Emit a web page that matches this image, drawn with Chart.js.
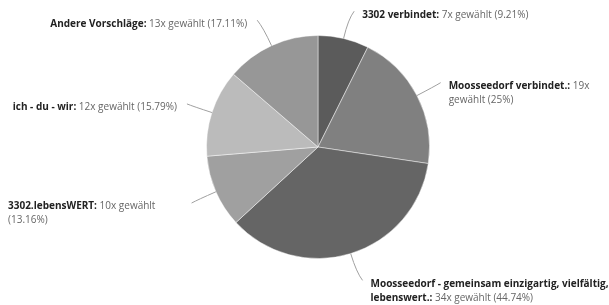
<!DOCTYPE html>
<html><head><meta charset="utf-8">
<script src="https://cdn.jsdelivr.net/npm/chart.js@4/dist/chart.umd.min.js"></script>
<style>html,body{margin:0;padding:0;background:#fff;}#wrap{width:609px;height:305px;position:relative;}</style>
</head><body><div id="wrap"><canvas id="c"></canvas></div>
<script>
const categories = ['3302 verbindet', 'Moosseedorf verbindet.', 'Moosseedorf - gemeinsam einzigartig, vielfältig, lebenswert.', '3302.lebensWERT', 'ich - du - wir', 'Andere Vorschläge'];
const votes = [7, 19, 34, 10, 12, 13];
const percentLabels = ['9.21%', '25%', '44.74%', '13.16%', '15.79%', '17.11%'];
const sliceColors = ['#5b5b5b', '#808080', '#656565', '#a0a0a0', '#bbbbbb', '#979797'];

const FONT = '"Open Sans", sans-serif';
const FS = 10;
const LINE_H = 14;

const labelPlugin = {
  id: 'leaderLabels',
  afterDatasetsDraw(chart) {
    const ctx = chart.ctx;
    const meta = chart.getDatasetMeta(0);
    meta.data.forEach((arc, i) => {
      const p = arc.getProps(['x', 'y', 'startAngle', 'endAngle', 'outerRadius'], true);
      const mid = (p.startAngle + p.endAngle) / 2;
      const dx = Math.cos(mid), dy = Math.sin(mid);
      const side = dx >= 0 ? 1 : -1;
      const x0 = p.x + dx * p.outerRadius, y0 = p.y + dy * p.outerRadius;
      const x1 = x0 + dx * 20, y1 = y0 + dy * 20;
      const x2 = x1 + side * 6, y2 = y1 + dy * 8;
      ctx.save();
      ctx.strokeStyle = '#a0a0a0';
      ctx.lineWidth = 1;
      ctx.beginPath();
      ctx.moveTo(x0, y0);
      ctx.quadraticCurveTo(x1, y1, x2, y2);
      ctx.stroke();

      const boldFont = 'bold ' + FS + 'px ' + FONT;
      const regFont = FS + 'px ' + FONT;
      const words = [];
      (categories[i] + ':').split(' ').forEach(w => words.push({ t: w, b: true }));
      (votes[i] + 'x gewählt (' + percentLabels[i] + ')').split(' ').forEach(w => words.push({ t: w, b: false }));
      words.forEach(w => { ctx.font = w.b ? boldFont : regFont; w.w = ctx.measureText(w.t).width; w.s = ctx.measureText(' ').width; });

      let textX, maxW;
      if (side > 0) { textX = x2 + 8; maxW = chart.width + 3 - textX; }
      else { maxW = x2 - 10 - 8; }
      const lines = [];
      let cur = [], curW = 0;
      words.forEach(w => {
        const add = cur.length ? w.s + w.w : w.w;
        if (cur.length && curW + add > maxW) { lines.push({ words: cur, w: curW }); cur = [w]; curW = w.w; }
        else { cur.push(w); curW += add; }
      });
      if (cur.length) lines.push({ words: cur, w: curW });
      const boxW = lines.length > 1 ? maxW : Math.max(...lines.map(l => l.w));
      if (side < 0) textX = x2 - 10 - boxW;
      ctx.textBaseline = 'middle';
      ctx.textAlign = 'left';
      lines.forEach((l, k) => {
        let x = textX;
        const y = y2 + 3.5 + k * LINE_H;
        l.words.forEach((w, j) => {
          if (j > 0) x += w.s;
          ctx.font = w.b ? boldFont : regFont;
          ctx.fillStyle = w.b ? '#222222' : '#666666';
          ctx.fillText(w.t, x, y);
          x += w.w;
        });
      });
      ctx.restore();
    });
  }
};

new Chart(document.getElementById('c'), {
  type: 'pie',
  data: {
    labels: categories,
    datasets: [{
      data: votes,
      backgroundColor: sliceColors,
      borderColor: 'rgba(255,255,255,0.45)',
      borderWidth: 1
    }]
  },
  options: {
    responsive: true,
    maintainAspectRatio: false,
    animation: false,
    layout: { padding: { top: 35, bottom: 46, left: 206, right: 179 } },
    plugins: { legend: { display: false }, tooltip: { enabled: false } }
  },
  plugins: [labelPlugin]
});
</script>
</body></html>
